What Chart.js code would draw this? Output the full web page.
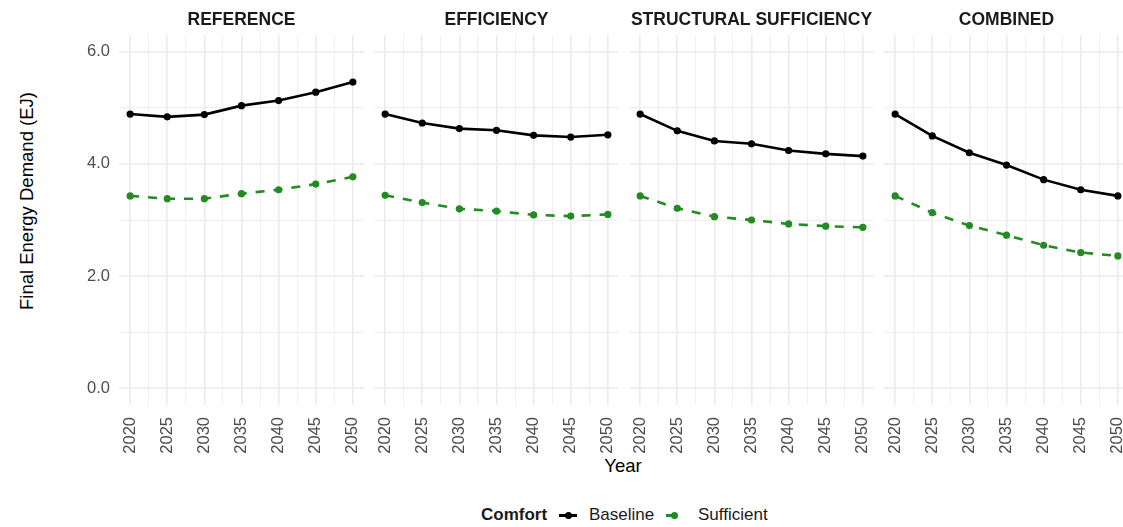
<!DOCTYPE html>
<html>
<head>
<meta charset="utf-8">
<script src="https://cdn.jsdelivr.net/npm/chart.js@4/dist/chart.umd.min.js"></script>
<style>
  html, body { margin: 0; padding: 0; background: #fff; overflow: hidden; width: 1123px; height: 527px; }
  body { position: relative; font-family: "Liberation Sans", Arial, sans-serif; }
  canvas { position: absolute; top: 0; }
  .txt { position: absolute; white-space: nowrap; color: #000; }
  #ytitle { font-size: 18.5px; line-height: 20px; transform: translate(-50%, -50%) rotate(-90deg); left: 27px; top: 201px; }
  #xtitle { font-size: 18.5px; line-height: 20px; transform: translateX(-50%); left: 623px; top: 456px; }
  .leg { font-size: 17px; line-height: 20px; top: 505px; color: #1A1A1A; }
  .keyline { position: absolute; height: 2.5px; top: 514px; }
  .keydot { position: absolute; width: 7px; height: 7px; border-radius: 50%; top: 511.5px; }
</style>
</head>
<body>
<div id="ytitle" class="txt">Final Energy Demand (EJ)</div>
<div id="xtitle" class="txt">Year</div>

<div class="txt leg" style="left:481px;font-weight:bold;">Comfort</div>
<div class="keyline" style="left:559px;width:18px;background:#000;"></div>
<div class="keydot" style="left:564.5px;background:#000;"></div>
<div class="txt leg" style="left:589px;">Baseline</div>
<div class="keyline" style="left:666px;width:11px;background:#228B22;"></div>
<div class="keydot" style="left:671px;background:#228B22;"></div>
<div class="txt leg" style="left:698px;">Sufficient</div>

<script>
// Final energy demand (EJ) by scenario and comfort level
const years = [2020, 2025, 2030, 2035, 2040, 2045, 2050];
const scenarios = ['REFERENCE', 'EFFICIENCY', 'STRUCTURAL SUFFICIENCY', 'COMBINED'];

const baselineReference   = [4.89, 4.84, 4.88, 5.04, 5.13, 5.28, 5.46];
const sufficientReference = [3.43, 3.38, 3.38, 3.47, 3.54, 3.64, 3.77];
const baselineEfficiency   = [4.89, 4.73, 4.63, 4.60, 4.51, 4.48, 4.52];
const sufficientEfficiency = [3.44, 3.31, 3.20, 3.16, 3.09, 3.07, 3.10];
const baselineStructural   = [4.89, 4.59, 4.41, 4.36, 4.24, 4.18, 4.14];
const sufficientStructural = [3.43, 3.21, 3.06, 3.00, 2.93, 2.89, 2.87];
const baselineCombined   = [4.89, 4.50, 4.20, 3.98, 3.72, 3.54, 3.43];
const sufficientCombined = [3.43, 3.13, 2.90, 2.73, 2.55, 2.42, 2.36];

const xGridValues = [2020, 2022.5, 2025, 2027.5, 2030, 2032.5, 2035, 2037.5, 2040, 2042.5, 2045, 2047.5, 2050];
const yGridValues = [0, 1, 2, 3, 4, 5, 6];
const yTickLabels = { 0: '0.0', 2: '2.0', 4: '4.0', 6: '6.0' };

const seriesByScenario = [
  [baselineReference, sufficientReference],
  [baselineEfficiency, sufficientEfficiency],
  [baselineStructural, sufficientStructural],
  [baselineCombined, sufficientCombined]
];

Chart.defaults.font.family = '"Liberation Sans", Arial, sans-serif';

const PANEL_LEFT = 119, PANEL_STEP = 255, PANEL_WIDTH = 245;
const CANVAS_H = 460, AREA_BOTTOM = 405, AXIS_W = 119;
const GRID = '#EBEBEB';

const toPoints = vals => years.map((yr, k) => ({ x: yr, y: vals[k] }));

scenarios.forEach((name, i) => {
  const first = i === 0;
  const left = first ? 0 : PANEL_LEFT + i * PANEL_STEP;
  const width = first ? AXIS_W + PANEL_WIDTH : PANEL_WIDTH;
  const canvas = document.createElement('canvas');
  canvas.width = width;
  canvas.height = CANVAS_H;
  canvas.style.left = left + 'px';
  canvas.style.width = width + 'px';
  canvas.style.height = CANVAS_H + 'px';
  document.body.appendChild(canvas);

  const [base, suff] = seriesByScenario[i];

  new Chart(canvas, {
    type: 'line',
    data: {
      datasets: [
        {
          label: 'Baseline', data: toPoints(base),
          borderColor: '#000000', backgroundColor: '#000000',
          borderWidth: 2.6, pointRadius: 3.6, pointBorderWidth: 0, tension: 0
        },
        {
          label: 'Sufficient', data: toPoints(suff),
          borderColor: '#228B22', backgroundColor: '#228B22',
          borderWidth: 2.6, borderDash: [9, 9], pointRadius: 3.6, pointBorderWidth: 0, tension: 0
        }
      ]
    },
    options: {
      responsive: false,
      animation: false,
      devicePixelRatio: 1,
      layout: { padding: 0, autoPadding: false },
      plugins: {
        legend: { display: false },
        tooltip: { enabled: false },
        title: {
          display: true, text: name, fullSize: false, color: '#1A1A1A',
          font: { size: 17.5, weight: 'bold' }, padding: { top: 10, bottom: 4 }
        }
      },
      scales: {
        x: {
          type: 'linear', min: 2018.5, max: 2051.5,
          afterBuildTicks: ax => { ax.ticks = xGridValues.map(v => ({ value: v })); },
          afterFit: s => {
            s.height = CANVAS_H - AREA_BOTTOM;
            s.paddingLeft = 0;
            s.paddingRight = 0;
          },
          border: { display: false },
          grid: {
            drawTicks: false,
            color: GRID,
            lineWidth: c => (c.tick && c.tick.value % 5 === 0) ? 1.6 : 0.8
          },
          ticks: {
            autoSkip: false, minRotation: 90, maxRotation: 90, padding: 12,
            color: '#4D4D4D', font: { size: 16.5 },
            callback: v => (v % 5 === 0 ? String(v) : '')
          }
        },
        y: {
          min: -0.3, max: 6.3,
          afterBuildTicks: ax => { ax.ticks = yGridValues.map(v => ({ value: v })); },
          afterFit: s => {
            s.width = first ? AXIS_W : 0;
            s.paddingTop = 0;
            s.paddingBottom = 0;
          },
          border: { display: false },
          grid: {
            drawTicks: false,
            color: GRID,
            lineWidth: c => (c.tick && c.tick.value % 2 === 0) ? 1.6 : 0.8
          },
          ticks: {
            display: first, padding: 9, color: '#4D4D4D', font: { size: 16.5 },
            callback: v => (yTickLabels[v] !== undefined ? yTickLabels[v] : '')
          }
        }
      }
    }
  });
});
</script>
</body>
</html>
